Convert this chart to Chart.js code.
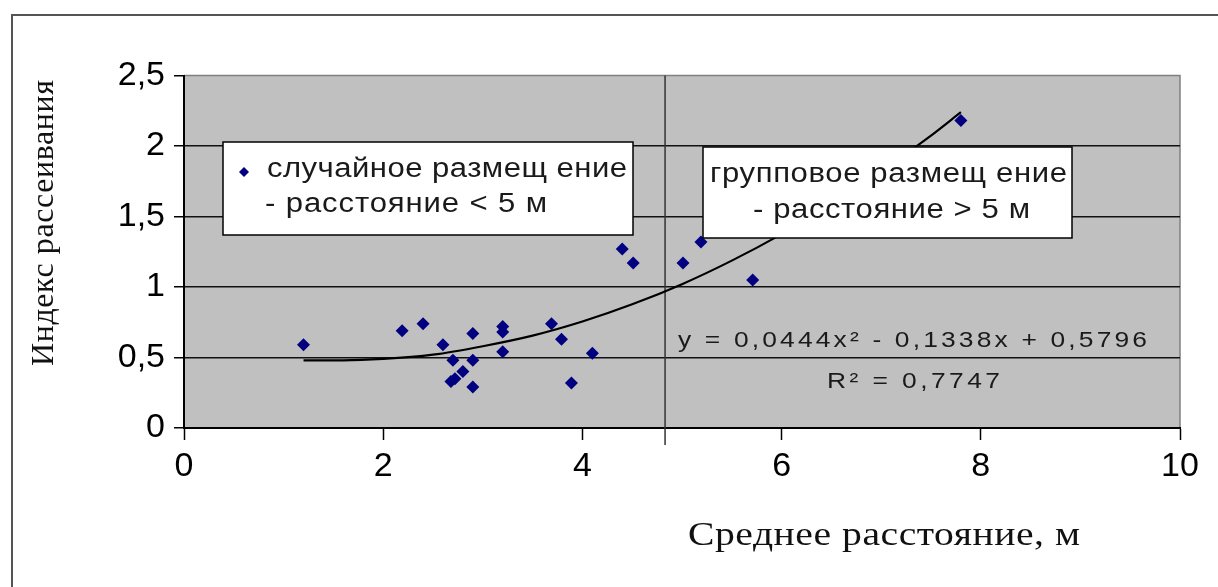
<!DOCTYPE html>
<html>
<head>
<meta charset="utf-8">
<script src="https://cdn.jsdelivr.net/npm/chart.js@4.4.0/dist/chart.umd.min.js"></script>
<style>
  html, body { margin: 0; padding: 0; background: #fff; }
  canvas { display: block; }
</style>
</head>
<body>
<canvas id="chart" width="1218" height="587"></canvas>
<script>
// measured points: average distance (m) -> dispersion index
const distX  = [1.2, 2.19, 2.4, 2.6, 2.7, 2.68, 2.72, 2.8, 2.9, 2.9, 2.9, 3.2, 3.2, 3.2, 3.69, 3.79, 3.89, 4.1, 4.4, 4.51, 5.01, 5.19, 5.71, 7.8];
const indexY = [0.59, 0.69, 0.74, 0.59, 0.48, 0.33, 0.35, 0.40, 0.67, 0.48, 0.29, 0.72, 0.68, 0.54, 0.74, 0.63, 0.32, 0.53, 1.27, 1.17, 1.17, 1.32, 1.05, 2.18];

// polynomial trend line
const trendX = [1.2, 1.6, 2, 2.5, 3, 3.5, 4, 4.5, 5, 5.5, 6, 6.5, 7, 7.5, 7.8];
const trendY = [0.48, 0.48, 0.49, 0.52, 0.58, 0.655, 0.755, 0.877, 1.02, 1.187, 1.375, 1.586, 1.82, 2.074, 2.24];

// the 5 m divider
const dividerX = [4.83, 4.83];
const dividerY = [-0.12, 2.5];

const xTicks = [0, 2, 4, 6, 8, 10];
const yTicks = [0, 0.5, 1, 1.5, 2, 2.5];

const xTitle = "Среднее расстояние, м";
const yTitle = "Индекс рассеивания";
const legendLeft  = ["случайное размещ ение", "- расстояние < 5 м"];
const legendRight = ["групповое размещ ение", "- расстояние > 5 м"];
const eqLines = ["y = 0,0444x² - 0,1338x + 0,5796", "R² = 0,7747"];

const SANS = '"Liberation Sans", Arial, sans-serif';
const SERIF = '"Liberation Serif", "Times New Roman", serif';

// the source picture is stretched sideways: widen glyphs by k, then
// spread letters so the line ends where it ends in the picture
function fitText(ctx, txt, x, y, w, k) {
  ctx.save();
  ctx.translate(x, y);
  ctx.scale(k, 1);
  const m = ctx.measureText(txt).width;
  const n = [...txt].length;
  if ("letterSpacing" in ctx) {
    ctx.letterSpacing = ((w / k - m) / (n - 1)) + "px";
    ctx.fillText(txt, 0, 0);
  } else {
    ctx.scale(w / (m * k), 1);
    ctx.fillText(txt, 0, 0);
  }
  ctx.restore();
}

function box(ctx, x1, y1, x2, y2) {
  ctx.fillStyle = "#fff";
  ctx.fillRect(x1, y1, x2 - x1, y2 - y1);
  ctx.strokeStyle = "#000";
  ctx.lineWidth = 1.5;
  ctx.strokeRect(x1, y1, x2 - x1, y2 - y1);
}

const decor = {
  id: "decor",
  beforeDraw(chart) {
    const { ctx, chartArea: a } = chart;
    ctx.save();
    ctx.fillStyle = "#fff";
    ctx.fillRect(0, 0, chart.width, chart.height);
    // outer frame
    ctx.strokeStyle = "#555";
    ctx.lineWidth = 2;
    ctx.strokeRect(12, 15, chart.width + 20, chart.height + 20);
    // plot area
    ctx.fillStyle = "#c0c0c0";
    ctx.fillRect(a.left, a.top, a.right - a.left, a.bottom - a.top);
    ctx.strokeStyle = "#808080";
    ctx.lineWidth = 1.5;
    ctx.beginPath();
    ctx.moveTo(a.left, a.top);
    ctx.lineTo(a.right, a.top);
    ctx.lineTo(a.right, a.bottom);
    ctx.stroke();
    ctx.restore();
  },
  afterDatasetsDraw(chart) {
    const ctx = chart.ctx;
    ctx.save();
    ctx.textBaseline = "alphabetic";

    // left legend box
    box(ctx, 223, 142, 633, 235);
    ctx.fillStyle = "#000080";
    ctx.beginPath();
    ctx.moveTo(244, 167); ctx.lineTo(249, 172); ctx.lineTo(244, 177); ctx.lineTo(239, 172);
    ctx.closePath(); ctx.fill();
    ctx.fillStyle = "#1a1a1a";
    ctx.font = "27px " + SANS;
    fitText(ctx, legendLeft[0], 267, 177, 360, 1.15);
    fitText(ctx, legendLeft[1], 265, 212, 282, 1.15);

    // right legend box
    box(ctx, 703, 147, 1072, 238);
    ctx.fillStyle = "#1a1a1a";
    fitText(ctx, legendRight[0], 710, 182, 357, 1.15);
    fitText(ctx, legendRight[1], 753, 218, 277, 1.15);

    // trend equation
    ctx.font = "22px " + SANS;
    fitText(ctx, eqLines[0], 678, 347, 469, 1.2);
    fitText(ctx, eqLines[1], 827, 388, 173, 1.2);

    // axis titles
    ctx.fillStyle = "#111";
    ctx.font = "33px " + SERIF;
    fitText(ctx, xTitle, 688, 545, 392, 1.2);
    ctx.save();
    ctx.translate(53, 366);
    ctx.rotate(-Math.PI / 2);
    ctx.font = "32px " + SERIF;
    fitText(ctx, yTitle, 0, 0, 286, 1);
    ctx.restore();
    ctx.restore();
  }
};

const commaFmt = v => String(v).replace(".", ",");

new Chart(document.getElementById("chart"), {
  type: "scatter",
  data: {
    datasets: [
      {
        label: "points",
        data: distX.map((x, i) => ({ x, y: indexY[i] })),
        pointStyle: "rectRot",
        pointRadius: 6.5,
        pointBackgroundColor: "#000080",
        pointBorderColor: "#000080",
        pointBorderWidth: 0,
        order: 1
      },
      {
        label: "trend",
        type: "line",
        data: trendX.map((x, i) => ({ x, y: trendY[i] })),
        borderColor: "#000",
        borderWidth: 2.2,
        pointRadius: 0,
        cubicInterpolationMode: "monotone",
        fill: false,
        order: 0
      },
      {
        label: "divider",
        type: "line",
        data: dividerX.map((x, i) => ({ x, y: dividerY[i] })),
        borderColor: "#333",
        borderWidth: 1.5,
        pointRadius: 0,
        clip: false,
        order: 2
      }
    ]
  },
  options: {
    responsive: false,
    animation: false,
    events: [],
    layout: { padding: { top: 75.5, right: 38, left: 0, bottom: 0 } },
    plugins: { legend: { display: false }, tooltip: { enabled: false } },
    scales: {
      x: {
        type: "linear",
        min: 0, max: 10,
        afterBuildTicks: s => { s.ticks = xTicks.map(v => ({ value: v })); },
        afterFit: s => { s.height = 159; },
        grid: { drawOnChartArea: false, drawTicks: true, tickLength: 12, tickColor: "#000", tickWidth: 1.5 },
        border: { display: true, color: "#000", width: 2 },
        ticks: { color: "#000", font: { family: SANS, size: 34 }, padding: 6, callback: commaFmt, maxRotation: 0 }
      },
      y: {
        type: "linear",
        min: 0, max: 2.5,
        afterBuildTicks: s => { s.ticks = yTicks.map(v => ({ value: v })); },
        afterFit: s => { s.width = 184; },
        grid: {
          color: ctx => (ctx.tick && ctx.tick.value === 2.5 ? "rgba(0,0,0,0)" : "#111"),
          lineWidth: 1.5,
          drawTicks: true, tickLength: 10, tickColor: "#000", tickWidth: 1.5
        },
        border: { display: true, color: "#000", width: 2 },
        ticks: { color: "#000", font: { family: SANS, size: 34 }, padding: 9, callback: commaFmt }
      }
    }
  },
  plugins: [decor]
});
</script>
</body>
</html>
